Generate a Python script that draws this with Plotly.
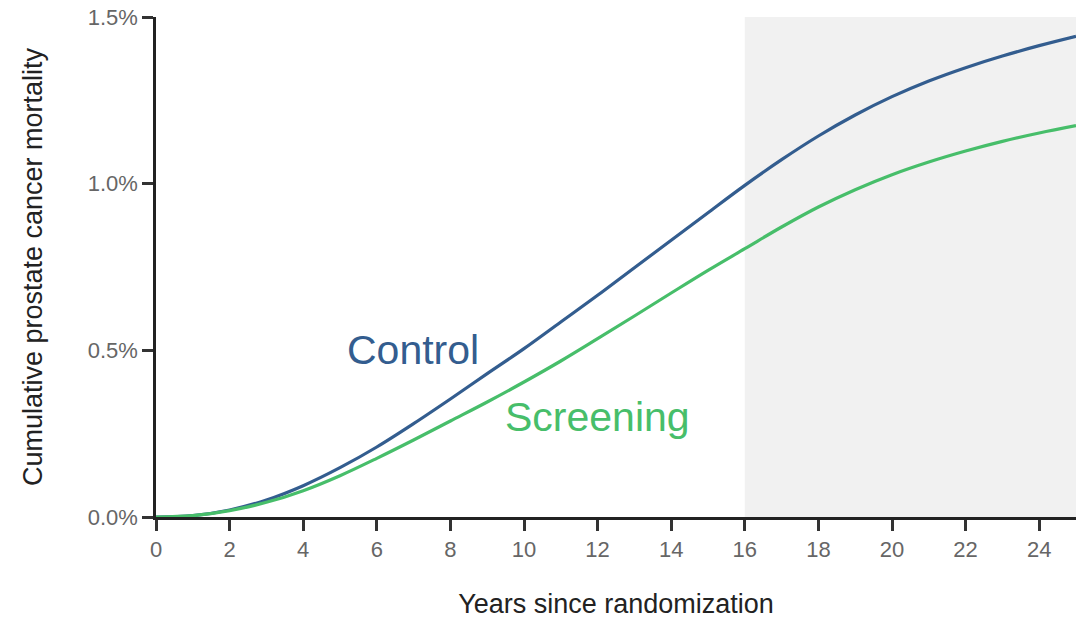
import plotly.graph_objects as go

# Years since randomization
years = list(range(0, 26))

# Cumulative prostate cancer mortality (%)
control = [0.0, 0.004, 0.021, 0.051, 0.094, 0.148, 0.21, 0.28, 0.354, 0.43,
           0.505, 0.585, 0.665, 0.748, 0.83, 0.913, 0.995, 1.072, 1.143, 1.206,
           1.261, 1.308, 1.348, 1.383, 1.414, 1.442]
screening = [0.0, 0.004, 0.019, 0.044, 0.079, 0.124, 0.176, 0.231, 0.288, 0.345,
             0.405, 0.468, 0.535, 0.603, 0.672, 0.74, 0.805, 0.87, 0.93, 0.982,
             1.027, 1.065, 1.098, 1.127, 1.152, 1.174]

x_ticks = list(range(0, 25, 2))
y_ticks = [0.0, 0.5, 1.0, 1.5]
y_tick_labels = ["0.0%", "0.5%", "1.0%", "1.5%"]

shade_start, shade_end = 16, 25

BLUE = "#335d8f"
GREEN = "#47be6a"
FONT = "Liberation Sans, Arial, sans-serif"

fig = go.Figure()

fig.add_shape(type="rect", xref="x", yref="y",
              x0=shade_start, x1=shade_end, y0=0, y1=1.5,
              fillcolor="#f1f1f1", line_width=0, layer="below")

fig.add_trace(go.Scatter(x=years, y=control, mode="lines",
                         line=dict(color=BLUE, width=3.2, shape="spline", smoothing=1.0),
                         name="Control", hoverinfo="skip"))
fig.add_trace(go.Scatter(x=years, y=screening, mode="lines",
                         line=dict(color=GREEN, width=3.2, shape="spline", smoothing=1.0),
                         name="Screening", hoverinfo="skip"))

fig.add_annotation(x=6.97, y=0.50, xref="x", yref="y", text="Control",
                   showarrow=False, font=dict(family=FONT, size=41, color=BLUE))
fig.add_annotation(x=12.0, y=0.30, xref="x", yref="y", text="Screening",
                   showarrow=False, font=dict(family=FONT, size=41, color=GREEN))

axis_common = dict(showgrid=False, zeroline=False, showline=True, automargin=False,
                   linecolor="#222222", linewidth=2.5,
                   ticks="outside", ticklen=11, tickwidth=2.5, tickcolor="#333333",
                   tickfont=dict(family=FONT, size=22, color="#666666"))

fig.update_xaxes(range=[0, 25], tickvals=x_ticks,
                 title=dict(text="Years since randomization",
                            font=dict(family=FONT, size=27, color="#222222"),
                            standoff=36),
                 **axis_common)
fig.update_yaxes(range=[0, 1.5], tickvals=y_ticks, ticktext=y_tick_labels,
                 title=dict(text="Cumulative prostate cancer mortality",
                            font=dict(family=FONT, size=27, color="#222222"),
                            standoff=38),
                 **axis_common)

fig.update_layout(width=1086, height=619,
                  margin=dict(l=156, r=10, t=17, b=102),
                  plot_bgcolor="white", paper_bgcolor="white",
                  showlegend=False)

fig.write_html("out.html")
